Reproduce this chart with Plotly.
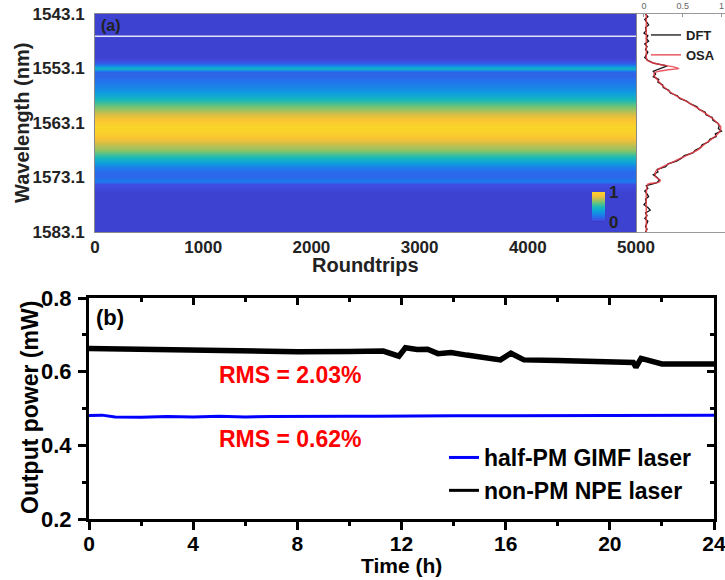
import plotly.graph_objects as go

# ---------------- Panel (a) data ----------------
osa_wavelength = [1543.1, 1545.0, 1547.0, 1549.0, 1551.0, 1551.6, 1552.0, 1552.4, 1552.8, 1553.1,
                  1553.4, 1553.8, 1554.4, 1555.1, 1556.0, 1557.0, 1558.0, 1559.0, 1560.0, 1561.0,
                  1562.0, 1563.0, 1563.8, 1564.6, 1565.4, 1566.2, 1567.0, 1568.0, 1569.0, 1570.0,
                  1571.0, 1572.0, 1573.0, 1573.6, 1574.0, 1574.3, 1576.0, 1578.0, 1580.0, 1583.1]
osa_intensity = [0.03, 0.03, 0.03, 0.03, 0.03, 0.04, 0.10, 0.22, 0.38, 0.45,
                 0.28, 0.14, 0.13, 0.17, 0.22, 0.30, 0.40, 0.53, 0.65, 0.76,
                 0.86, 0.94, 0.99, 0.98, 0.93, 0.86, 0.78, 0.70, 0.56, 0.41,
                 0.26, 0.15, 0.15, 0.21, 0.19, 0.05, 0.03, 0.03, 0.03, 0.03]

dft_wavelength = [1543.1, 1543.6, 1544.1, 1544.6, 1545.1, 1545.6, 1546.1, 1546.6, 1547.1, 1547.6,
                  1548.1, 1548.6, 1549.1, 1549.6, 1550.1, 1550.6, 1551.1, 1551.6, 1552.1, 1552.6,
                  1553.1, 1553.6, 1554.1, 1554.6, 1555.1, 1555.6, 1556.1, 1556.6, 1557.1, 1557.6,
                  1558.1, 1558.6, 1559.1, 1559.6, 1560.1, 1560.6, 1561.1, 1561.6, 1562.1, 1562.6,
                  1563.1, 1563.6, 1564.1, 1564.6, 1565.1, 1565.6, 1566.1, 1566.6, 1567.1, 1567.6,
                  1568.1, 1568.6, 1569.1, 1569.6, 1570.1, 1570.6, 1571.1, 1571.6, 1572.1, 1572.6,
                  1573.1, 1573.6, 1574.1, 1574.6, 1575.1, 1575.6, 1576.1, 1576.6, 1577.1, 1577.6,
                  1578.1, 1578.6, 1579.1, 1579.6, 1580.1, 1580.6, 1581.1, 1581.6, 1582.1, 1582.6,
                  1583.1]
dft_intensity = [0.02, 0.05, 0.01, 0.04, 0.06, 0.02, 0.03, 0.00, 0.05, 0.03,
                 0.06, 0.01, 0.04, 0.02, 0.05, 0.03, 0.01, 0.05, 0.12, 0.30,
                 0.20, 0.12, 0.15, 0.12, 0.19, 0.18, 0.24, 0.25, 0.32, 0.34,
                 0.43, 0.46, 0.55, 0.60, 0.68, 0.71, 0.79, 0.80, 0.88, 0.89,
                 0.95, 0.97, 0.96, 1.00, 0.92, 0.93, 0.85, 0.83, 0.75, 0.73,
                 0.66, 0.63, 0.52, 0.48, 0.42, 0.31, 0.28, 0.17, 0.18, 0.12,
                 0.17, 0.20, 0.16, 0.03, 0.05, 0.01, 0.04, 0.06, 0.02, 0.03,
                 0.00, 0.05, 0.08, 0.02, 0.04, 0.01, 0.05, 0.03, 0.02, 0.04,
                 0.02]

roundtrips = [0, 5000]
artifact_wavelength = 1547.2
wavelength_ticks = [1543.1, 1553.1, 1563.1, 1573.1, 1583.1]
roundtrip_ticks = [0, 1000, 2000, 3000, 4000, 5000]
spectrum_ticks = [0, 0.5, 1]

# ---------------- Panel (b) data ----------------
npe_time = [0, 2, 4, 6, 8, 10, 11.3, 11.9, 12.15, 12.6, 13.0, 13.4, 13.9, 14.5, 15.8,
            16.2, 16.7, 18, 20, 20.9, 21.0, 21.2, 22, 23, 24]
npe_power = [0.663, 0.661, 0.659, 0.655, 0.654, 0.655, 0.656, 0.642, 0.665, 0.660, 0.661,
             0.649, 0.652, 0.645, 0.632, 0.650, 0.632, 0.630, 0.627, 0.625, 0.612, 0.636,
             0.621, 0.621, 0.621]
gimf_time = [0, 0.5, 1, 2, 3, 4, 5, 6, 7, 8, 9, 10, 11, 12, 14, 16, 18, 20, 22, 24]
gimf_power = [0.481, 0.482, 0.477, 0.476, 0.478, 0.477, 0.479, 0.477, 0.478, 0.479,
              0.478, 0.479, 0.479, 0.480, 0.480, 0.480, 0.481, 0.481, 0.482, 0.482]
rms_labels = ["RMS = 2.03%", "RMS = 0.62%"]
time_ticks = [0, 4, 8, 12, 16, 20, 24]
power_ticks = [0.2, 0.4, 0.6, 0.8]

W, H = 725, 580
FONT = "Arial, 'Liberation Sans', sans-serif"


def px(x):
    return x / W


def py(y):
    return 1 - y / H


parula_like = [
    [0.00, "rgb(60,48,180)"],
    [0.05, "rgb(62,78,226)"],
    [0.20, "rgb(32,118,236)"],
    [0.35, "rgb(15,158,222)"],
    [0.50, "rgb(24,184,186)"],
    [0.65, "rgb(110,196,118)"],
    [0.80, "rgb(214,190,70)"],
    [0.90, "rgb(250,196,52)"],
    [1.00, "rgb(250,214,40)"],
]

fig = go.Figure()

fig.add_trace(go.Heatmap(
    x=roundtrips, y=osa_wavelength,
    z=[[v, v] for v in osa_intensity],
    colorscale=parula_like, zmin=0, zmax=1, zsmooth="best",
    xaxis="x", yaxis="y", hoverinfo="skip",
    colorbar=dict(x=px(592), xanchor="left", y=py(222), yanchor="bottom",
                  len=30, lenmode="pixels", thickness=13, thicknessmode="pixels",
                  outlinewidth=0, tickvals=[0, 1], ticktext=["0", "1"], ticks="",
                  xpad=0, ypad=0, ticklabelposition="outside",
                  tickfont=dict(family=FONT, size=17, color="#222", weight="bold")),
))
fig.add_trace(go.Scatter(
    x=roundtrips, y=[artifact_wavelength, artifact_wavelength], mode="lines",
    line=dict(color="rgba(255,255,255,0.85)", width=1.5),
    xaxis="x", yaxis="y", showlegend=False, hoverinfo="skip"))

fig.add_trace(go.Scatter(
    x=dft_intensity, y=dft_wavelength, mode="lines", name="DFT",
    line=dict(color="#111111", width=1.3), xaxis="x2", yaxis="y", legend="legend2"))
fig.add_trace(go.Scatter(
    x=osa_intensity, y=osa_wavelength, mode="lines", name="OSA",
    line=dict(color="rgba(232,60,72,0.85)", width=1.5, shape="spline", smoothing=0.6),
    xaxis="x2", yaxis="y", legend="legend2"))

# legend-entry lines (thin samples), drawn underneath the plotted lines
fig.add_trace(go.Scatter(
    x=gimf_time, y=gimf_power, mode="lines", name="half-PM GIMF laser",
    line=dict(color="#0000ff", width=3), xaxis="x3", yaxis="y3"))
fig.add_trace(go.Scatter(
    x=npe_time, y=npe_power, mode="lines", name="non-PM NPE laser",
    line=dict(color="#000000", width=3), xaxis="x3", yaxis="y3"))
fig.add_trace(go.Scatter(
    x=npe_time, y=npe_power, mode="lines", showlegend=False, hoverinfo="skip",
    line=dict(color="#000000", width=5.5), xaxis="x3", yaxis="y3"))
# invisible helper so the inner-tick overlay axes are drawn
fig.add_trace(go.Scatter(
    x=gimf_time, y=gimf_power, mode="lines", opacity=0, showlegend=False,
    hoverinfo="skip", xaxis="x4", yaxis="y4"))

tick_font_a = dict(family=FONT, size=17, color="#222", weight="bold")
tick_font_b = dict(family=FONT, size=21, color="#000", weight="bold")

fig.update_layout(
    width=W, height=H, margin=dict(l=0, r=0, t=0, b=0, autoexpand=False),
    paper_bgcolor="white", plot_bgcolor="rgba(0,0,0,0)",
    font=dict(family=FONT),
    xaxis=dict(domain=[px(95), px(636)], anchor="y", range=[0, 5000],
               tickvals=roundtrip_ticks, ticks="", showline=True, linecolor="#8a8a8a",
               linewidth=1, mirror=True, showgrid=False, zeroline=False,
               tickfont=tick_font_a, ticklabelstandoff=0, automargin=False),
    yaxis=dict(domain=[py(232), py(14)], anchor="x", range=[1583.1, 1543.1],
               tickvals=wavelength_ticks, ticktext=[f"{v:.1f}" for v in wavelength_ticks],
               ticks="", showline=True, linecolor="#8a8a8a", linewidth=1, mirror=True,
               showgrid=False, zeroline=False, tickfont=tick_font_a, ticklabelstandoff=6,
               automargin=False),
    xaxis2=dict(domain=[px(637), 1.0], anchor="y", side="top", range=[-0.09, 1.045],
                tickvals=spectrum_ticks, ticktext=["0", "0.5", "1"], ticks="inside",
                ticklen=3, tickcolor="#999", showline=True, linecolor="#999", linewidth=1,
                mirror=True, showgrid=False, zeroline=False, automargin=False,
                ticklabeloverflow="allow",
                tickfont=dict(family=FONT, size=9, color="#666")),
    xaxis3=dict(domain=[px(89), px(714)], anchor="y3", range=[0, 24],
                tickvals=time_ticks, ticks="outside", ticklen=8, tickwidth=3,
                tickcolor="black", showline=True, linewidth=3, linecolor="black",
                mirror=True, showgrid=False, zeroline=False, tickfont=tick_font_b,
                automargin=False, ticklabeloverflow="allow", ticklabelstandoff=-4,
                minor=dict(tick0=0, dtick=2, ticks="outside", ticklen=4, tickwidth=2.5,
                           tickcolor="black", showgrid=False)),
    yaxis3=dict(domain=[py(519), py(298)], anchor="x3", range=[0.2, 0.8],
                tickvals=power_ticks, ticktext=[f"{v:.1f}" for v in power_ticks],
                ticks="outside", ticklen=8, tickwidth=3, tickcolor="black",
                showline=True, linewidth=3, linecolor="black", mirror=True,
                showgrid=False, zeroline=False, automargin=False,
                tickfont=dict(family=FONT, size=22, color="#000", weight="bold"),
                ticklabelstandoff=2,
                minor=dict(tick0=0.2, dtick=0.1, ticks="outside", ticklen=4, tickwidth=2.5,
                           tickcolor="black", showgrid=False)),
    xaxis4=dict(overlaying="x3", anchor="y3", side="top", range=[0, 24], tickvals=time_ticks,
                ticks="inside", ticklen=7, tickwidth=3, tickcolor="black",
                showticklabels=False, showline=False, showgrid=False, zeroline=False,
                automargin=False,
                minor=dict(tick0=0, dtick=2, ticks="inside", ticklen=4, tickwidth=2.5,
                           tickcolor="black", showgrid=False)),
    yaxis4=dict(overlaying="y3", anchor="x3", side="right", range=[0.2, 0.8], tickvals=power_ticks,
                ticks="inside", ticklen=7, tickwidth=3, tickcolor="black",
                showticklabels=False, showline=False, showgrid=False, zeroline=False,
                automargin=False,
                minor=dict(tick0=0.2, dtick=0.1, ticks="inside", ticklen=4, tickwidth=2.5,
                           tickcolor="black", showgrid=False)),
    legend=dict(x=px(444), y=py(436), xanchor="left", yanchor="top",
                bgcolor="rgba(0,0,0,0)", borderwidth=0, tracegroupgap=0,
                font=dict(family=FONT, size=23, color="#000", weight="bold")),
    legend2=dict(x=px(646), y=py(20), xanchor="left", yanchor="top",
                 bgcolor="rgba(0,0,0,0)", borderwidth=0, tracegroupgap=0,
                 font=dict(family=FONT, size=13, color="#222", weight="bold")),
    showlegend=True,
)

ann = []
ann.append(dict(text="(a)", x=px(99), y=py(25), xref="paper", yref="paper",
                xanchor="left", yanchor="middle", showarrow=False,
                font=dict(family=FONT, size=16, color="#222", weight="bold")))
ann.append(dict(text="Roundtrips", x=px(365), y=py(265), xref="paper", yref="paper",
                xanchor="center", yanchor="middle", showarrow=False,
                font=dict(family=FONT, size=20, color="#222", weight="bold")))
ann.append(dict(text="Wavelength (nm)", x=px(22), y=py(123), xref="paper", yref="paper",
                xanchor="center", yanchor="middle", showarrow=False, textangle=-90,
                font=dict(family=FONT, size=20, color="#222", weight="bold")))
ann.append(dict(text="(b)", x=px(94), y=py(317), xref="paper", yref="paper",
                xanchor="left", yanchor="middle", showarrow=False,
                font=dict(family=FONT, size=22, color="#000", weight="bold")))
ann.append(dict(text="Time (h)", x=px(401), y=py(565), xref="paper", yref="paper",
                xanchor="center", yanchor="middle", showarrow=False,
                font=dict(family=FONT, size=21, color="#000", weight="bold")))
ann.append(dict(text="Output power (mW)", x=px(30), y=py(408), xref="paper", yref="paper",
                xanchor="center", yanchor="middle", showarrow=False, textangle=-90,
                font=dict(family=FONT, size=23, color="#000", weight="bold")))
ann.append(dict(text=rms_labels[0], x=7.73, y=0.590, xref="x3", yref="y3",
                xanchor="center", yanchor="middle", showarrow=False,
                font=dict(family=FONT, size=23, color="#ff0000", weight="bold")))
ann.append(dict(text=rms_labels[1], x=7.73, y=0.418, xref="x3", yref="y3",
                xanchor="center", yanchor="middle", showarrow=False,
                font=dict(family=FONT, size=23, color="#ff0000", weight="bold")))
fig.update_layout(annotations=ann)

fig.write_html("out.html")
